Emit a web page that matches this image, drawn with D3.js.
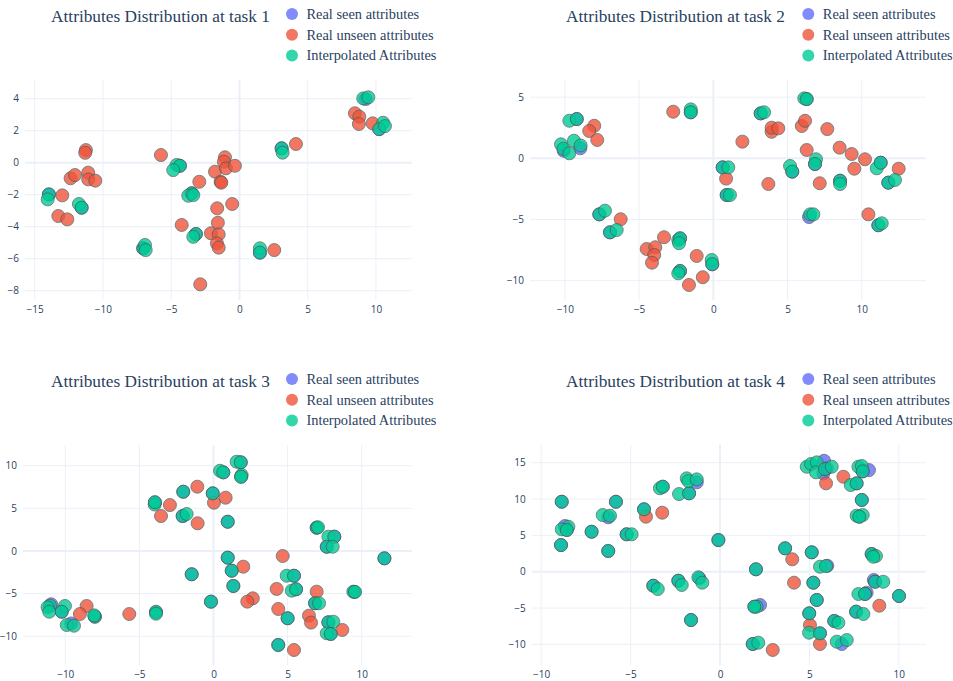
<!DOCTYPE html>
<html>
<head>
<meta charset="utf-8">
<script src="https://cdn.jsdelivr.net/npm/d3@7/dist/d3.min.js"></script>
<style>
  body { margin: 0; background: #fff; }
  svg { display: block; }
</style>
</head>
<body>
<svg id="chart" width="953" height="681"></svg>
<script>
// ---- legend / series ----
const seriesNames = ["Real seen attributes", "Real unseen attributes", "Interpolated Attributes"];
const seriesColors = ["#636efa", "#EF553B", "#00cc96"];
const taskTitles = [
  "Attributes Distribution at task 1",
  "Attributes Distribution at task 2",
  "Attributes Distribution at task 3",
  "Attributes Distribution at task 4"
];

// ---- task 1 ----
const task1Seen = [[-13.96,-1.98],[-11.56,-2.81],[-7.05,-5.35],[-4.36,-0.19],[-3.5,-1.91],[-3.19,-4.46],
  [3.09,0.9],[1.5,-5.62],[9.25,3.98],[10.24,2.1]];
const task1Unseen = [[-11.25,0.79],[-11.3,0.62],[-12.37,-0.97],[-12.05,-0.77],[-11.08,-0.62],[-11.08,-1.04],
  [-10.56,-1.12],[-12.98,-2.04],[-13.27,-3.33],[-12.61,-3.54],[-5.75,0.48],[-2.94,-1.19],[-4.23,-3.89],
  [-1.79,-0.56],[-1.06,0.34],[-1.14,0.06],[-0.99,-0.35],[-0.33,-0.19],[-1.38,-1.19],[-1.33,-1.25],
  [-1.63,-2.85],[-1.58,-3.75],[-0.53,-2.58],[-2.09,-4.41],[-1.52,-4.48],[-1.65,-5.04],[-1.52,-5.31],
  [-2.87,-7.6],[4.14,1.17],[2.55,-5.46],[8.46,3.09],[8.78,2.88],[8.75,2.42],[9.76,2.46]];
const task1Interp = [[-13.96,-1.98],[-14.05,-2.29],[-11.76,-2.58],[-11.56,-2.81],[-7.05,-5.35],[-6.92,-5.14],
  [-6.87,-5.46],[-4.6,-0.14],[-4.36,-0.19],[-4.85,-0.46],[-3.5,-1.91],[-3.75,-2.06],[-3.38,-2.02],
  [-3.19,-4.46],[-3.38,-4.63],[3.09,0.9],[3.16,0.63],[1.5,-5.35],[1.5,-5.62],[9.07,4.02],[9.44,4.09],
  [10.53,2.5],[10.24,2.1],[10.66,2.29]];
const xTicks1 = [-15, -10, -5, 0, 5, 10];
const yTicks1 = [-8, -6, -4, -2, 0, 2, 4];

// ---- task 2 ----
const task2Seen = [[-9.2,3.21],[-10.08,0.62],[-8.96,0.82],[-7.68,-4.58],[-6.96,-6.05],[-2.24,-6.54],
  [-2.24,-9.21],[-0.07,-8.66],[-1.52,3.76],[0.63,-0.74],[0.9,-3.0],[3.19,3.67],[6.29,4.84],[5.32,-1.09],
  [6.85,-0.47],[6.45,-4.8],[8.54,-1.83],[11.28,-0.36],[11.79,-1.99],[11.12,-5.47]];
const task2Unseen = [[-2.7,3.81],[-8.02,2.66],[-8.36,2.23],[-7.82,1.5],[-6.24,-4.98],[-3.32,-6.45],
  [-4.49,-7.41],[-3.91,-7.27],[-3.98,-7.9],[-4.13,-8.53],[-1.12,-7.98],[-0.71,-9.72],[-1.64,-10.35],
  [0.86,-1.66],[1.96,1.36],[3.93,2.17],[3.93,2.5],[4.38,2.45],[5.96,2.64],[6.18,3.07],[7.68,2.39],
  [6.29,0.68],[8.51,0.87],[9.32,0.35],[10.22,-0.08],[9.5,-0.85],[12.49,-0.85],[3.71,-2.1],[7.17,-2.04],
  [10.45,-4.58]];
const task2Interp = [[-9.7,3.07],[-9.2,3.21],[-10.26,1.14],[-10.1,0.78],[-9.7,0.41],[-9.39,1.44],
  [-8.94,1.05],[-7.68,-4.58],[-7.3,-4.28],[-6.96,-6.05],[-6.51,-5.86],[-2.36,-6.67],[-2.24,-6.54],
  [-2.31,-6.94],[-2.24,-9.21],[-2.36,-9.4],[-0.11,-8.31],[-0.07,-8.66],[-1.52,4.0],[-1.52,3.76],
  [0.63,-0.74],[1.01,-0.74],[0.9,-3.0],[1.12,-3.0],[3.19,3.67],[3.42,3.76],[6.13,4.9],[6.29,4.84],
  [5.17,-0.63],[5.32,-1.09],[6.92,-0.08],[6.85,-0.47],[6.52,-4.58],[6.74,-4.58],[8.54,-1.83],
  [8.54,-2.1],[11.01,-0.82],[11.28,-0.36],[11.79,-1.99],[12.24,-1.77],[11.12,-5.47],[11.35,-5.31]];
const xTicks2 = [-10, -5, 0, 5, 10];
const yTicks2 = [-10, -5, 0, 5];

// ---- task 3 ----
const task3Seen = [[-10.95,-6.25],[-10.24,-7.12],[-9.6,-8.5],[-8.0,-7.7],[-3.88,-7.2],[-3.95,5.71],
  [-2.04,6.95],[-2.08,4.1],[-0.05,6.76],[0.96,3.43],[0.66,9.22],[-1.47,-2.73],[-0.17,-5.94],[0.96,-0.78],
  [1.23,-2.31],[1.34,-4.1],[1.84,10.4],[1.86,8.71],[6.96,2.73],[8.15,1.68],[7.64,0.5],[11.53,-0.86],
  [5.43,-2.9],[5.57,-4.49],[9.5,-4.8],[6.85,-6.13],[5.0,-7.89],[7.75,-8.36],[7.91,-9.73],[4.37,-11.02]];
const task3Unseen = [[-8.56,-6.45],[-9.01,-7.39],[-5.68,-7.39],[-3.54,4.1],[-2.94,5.39],[-1.09,7.54],
  [-1.07,3.25],[0.03,5.66],[0.82,6.25],[2.01,-1.84],[2.65,-5.55],[2.28,-5.94],[4.67,-0.59],[4.26,-4.45],
  [4.37,-6.8],[6.96,-4.77],[6.44,-7.58],[6.58,-8.4],[8.69,-9.26],[5.43,-11.61]];
const task3Interp = [[-11.03,-6.41],[-11.19,-6.6],[-11.08,-7.12],[-10.02,-6.45],[-10.24,-7.12],
  [-9.9,-8.68],[-9.41,-8.76],[-8.0,-7.7],[-8.05,-7.55],[-3.88,-7.12],[-3.88,-7.35],[-3.97,5.45],
  [-3.95,5.71],[-2.04,6.95],[-2.08,4.1],[-1.81,4.34],[-0.05,6.76],[0.96,3.43],[0.44,9.41],[0.66,9.22],
  [-1.47,-2.73],[-0.17,-5.94],[0.96,-0.78],[1.23,-2.31],[1.34,-4.1],[1.56,10.47],[1.84,10.4],[1.9,8.91],
  [1.86,8.71],[6.96,2.73],[7.05,2.78],[7.75,1.68],[8.15,1.68],[7.64,0.5],[8.04,0.5],[11.53,-0.86],
  [4.94,-2.9],[5.43,-2.9],[5.28,-4.65],[5.57,-4.49],[9.43,-4.77],[9.55,-4.8],[6.85,-6.13],[7.12,-6.13],
  [5.0,-7.89],[7.75,-8.36],[8.08,-8.29],[7.64,-9.65],[7.91,-9.73],[4.37,-11.02]];
const xTicks3 = [-10, -5, 0, 5, 10];
const yTicks3 = [-10, -5, 0, 5, 10];

// ---- task 4 ----
const task4Seen = [[-8.85,9.63],[-8.67,6.29],[-8.57,5.74],[-8.89,3.67],[-7.18,5.5],[-6.25,7.49],
  [-6.25,2.85],[-5.82,9.63],[-5.22,5.15],[-4.25,8.59],[-3.2,11.7],[-1.73,10.79],[-1.3,12.3],[-0.09,4.36],
  [-3.73,-1.93],[-2.33,-1.24],[-1.15,-0.9],[-1.62,-6.65],[5.82,15.27],[5.97,14.23],[5.78,13.54],
  [5.87,14.13],[8.33,13.99],[7.98,13.81],[7.64,12.16],[7.93,9.87],[7.79,7.57],[3.64,3.22],[5.13,2.67],
  [6.0,0.82],[2.01,0.33],[8.48,2.44],[5.22,-1.51],[8.6,-1.14],[8.67,-1.38],[8.2,-2.89],[8.11,-3.07],
  [10.01,-3.34],[5.41,-3.89],[2.24,-4.58],[1.92,-4.81],[7.61,-5.5],[4.99,-5.73],[6.39,-6.78],
  [5.59,-8.48],[1.83,-9.95],[6.81,-9.95]];
const task4Unseen = [[-4.14,7.57],[-3.23,8.12],[5.93,12.16],[6.9,13.07],[4.04,1.71],[4.14,-1.51],
  [8.91,-4.68],[5.03,-7.33],[5.59,-9.95],[2.95,-10.77]];
const task4Interp = [[-8.85,9.63],[-8.48,6.19],[-8.85,5.83],[-8.57,5.74],[-8.89,3.67],[-7.18,5.5],
  [-6.56,7.8],[-6.15,7.71],[-6.25,2.85],[-5.82,9.63],[-5.22,5.15],[-4.94,5.15],[-4.25,8.59],
  [-3.36,11.48],[-3.2,11.7],[-2.29,10.69],[-1.73,10.79],[-1.86,12.85],[-1.77,12.48],[-1.3,12.71],
  [-0.09,4.36],[-3.73,-1.93],[-3.48,-2.38],[-2.33,-1.24],[-2.14,-1.83],[-1.21,-0.77],[-0.99,-1.51],
  [-1.62,-6.65],[4.85,14.45],[5.09,14.82],[5.41,15.05],[5.37,13.68],[5.87,14.13],[6.25,14.45],
  [7.74,14.45],[7.93,14.55],[7.98,13.81],[7.31,11.93],[7.64,12.16],[7.93,9.87],[7.64,7.71],[7.98,7.8],
  [7.79,7.57],[3.64,3.22],[5.13,2.67],[5.59,0.69],[5.93,0.78],[2.01,0.33],[8.48,2.44],[8.72,2.16],
  [8.57,2.06],[5.22,-1.51],[8.67,-1.38],[9.13,-1.38],[7.74,-3.07],[8.11,-3.07],[10.01,-3.34],
  [5.41,-3.89],[2.05,-4.81],[1.92,-4.81],[7.61,-5.5],[8.02,-5.82],[4.99,-5.73],[6.39,-6.78],
  [6.62,-7.02],[4.98,-8.39],[5.59,-8.48],[1.83,-9.95],[2.14,-9.77],[6.53,-9.63],[7.09,-9.4]];
const xTicks4 = [-10, -5, 0, 5, 10];
const yTicks4 = [-10, -5, 0, 5, 10, 15];

// ---- panel layout (pixel boxes and axis ranges) ----
const panels = [
  { box: { left: 25,    right: 411.7, top: 80,  bottom: 300 }, xDom: [-15.71, 12.62], yDom: [-8.58, 5.17],
    titleX: 160.5, legendX: 292, offY: 0,
    series: [task1Seen, task1Unseen, task1Interp], xTicks: xTicks1, yTicks: yTicks1 },
  { box: { left: 530,   right: 926,   top: 80,  bottom: 300 }, xDom: [-12.35, 14.33], yDom: [-11.58, 6.40],
    titleX: 675.5, legendX: 808.3, offY: 0,
    series: [task2Seen, task2Unseen, task2Interp], xTicks: xTicks2, yTicks: yTicks2 },
  { box: { left: 23,    right: 412,   top: 445, bottom: 665 }, xDom: [-12.85, 13.39], yDom: [-13.37, 12.43],
    titleX: 160.5, legendX: 292, offY: 365,
    series: [task3Seen, task3Unseen, task3Interp], xTicks: xTicks3, yTicks: yTicks3 },
  { box: { left: 531.7, right: 926,   top: 445, bottom: 665 }, xDom: [-10.53, 11.52], yDom: [-12.84, 17.44],
    titleX: 675.5, legendX: 808.3, offY: 365,
    series: [task4Seen, task4Unseen, task4Interp], xTicks: xTicks4, yTicks: yTicks4 }
];

const svg = d3.select("#chart");
const gridColor = "#ebf0f8";
const textColor = "#2a3f5f";
const serif = "'Liberation Serif', 'Times New Roman', serif";
const sans = "'Open Sans', 'Noto Sans', sans-serif";

panels.forEach((p, i) => {
  const g = svg.append("g");
  const x = d3.scaleLinear().domain(p.xDom).range([p.box.left, p.box.right]);
  const y = d3.scaleLinear().domain(p.yDom).range([p.box.bottom, p.box.top]);

  // grid lines
  const grid = g.append("g");
  grid.selectAll("line.vx").data(p.xTicks).join("line")
    .attr("x1", d => x(d)).attr("x2", d => x(d))
    .attr("y1", p.box.top).attr("y2", p.box.bottom)
    .attr("stroke", gridColor).attr("stroke-width", d => d === 0 ? 2 : 1);
  grid.selectAll("line.hy").data(p.yTicks).join("line")
    .attr("x1", p.box.left).attr("x2", p.box.right)
    .attr("y1", d => y(d)).attr("y2", d => y(d))
    .attr("stroke", gridColor).attr("stroke-width", d => d === 0 ? 2 : 1);

  // axes (labels only)
  const fmt = d => d < 0 ? "\u2212" + Math.abs(d) : String(d);
  const xAxis = g.append("g").attr("transform", `translate(0,${p.box.bottom})`)
    .call(d3.axisBottom(x).tickValues(p.xTicks).tickSize(0).tickPadding(6).tickFormat(fmt));
  const yAxis = g.append("g").attr("transform", `translate(${p.box.left},0)`)
    .call(d3.axisLeft(y).tickValues(p.yTicks).tickSize(0).tickPadding(6).tickFormat(fmt));
  [xAxis, yAxis].forEach(a => {
    a.select(".domain").remove();
    a.selectAll("text").attr("fill", textColor).style("font-family", sans).style("font-size", "10px");
  });

  // markers: seen, unseen, interpolated (drawn in that order)
  p.series.forEach((pts, s) => {
    g.append("g").selectAll("circle").data(pts).join("circle")
      .attr("cx", d => x(d[0])).attr("cy", d => y(d[1])).attr("r", 6.5)
      .attr("fill", seriesColors[s])
      .attr("stroke", "#4a5c5c").attr("stroke-width", 0.9)
      .attr("opacity", 0.8);
  });

  // title
  svg.append("text").attr("x", p.titleX).attr("y", 21.5 + p.offY)
    .attr("text-anchor", "middle").attr("fill", textColor)
    .style("font-family", serif).style("font-size", "17.3px")
    .text(taskTitles[i]);

  // legend
  const lg = svg.append("g");
  seriesNames.forEach((name, s) => {
    const cy = 14 + s * 20.7 + p.offY;
    lg.append("circle").attr("cx", p.legendX).attr("cy", cy).attr("r", 6)
      .attr("fill", seriesColors[s]).attr("opacity", 0.8);
    lg.append("text").attr("x", p.legendX + 14.5).attr("y", cy + 5)
      .attr("fill", textColor).style("font-family", serif).style("font-size", "14.4px")
      .text(name);
  });
});
</script>
</body>
</html>
